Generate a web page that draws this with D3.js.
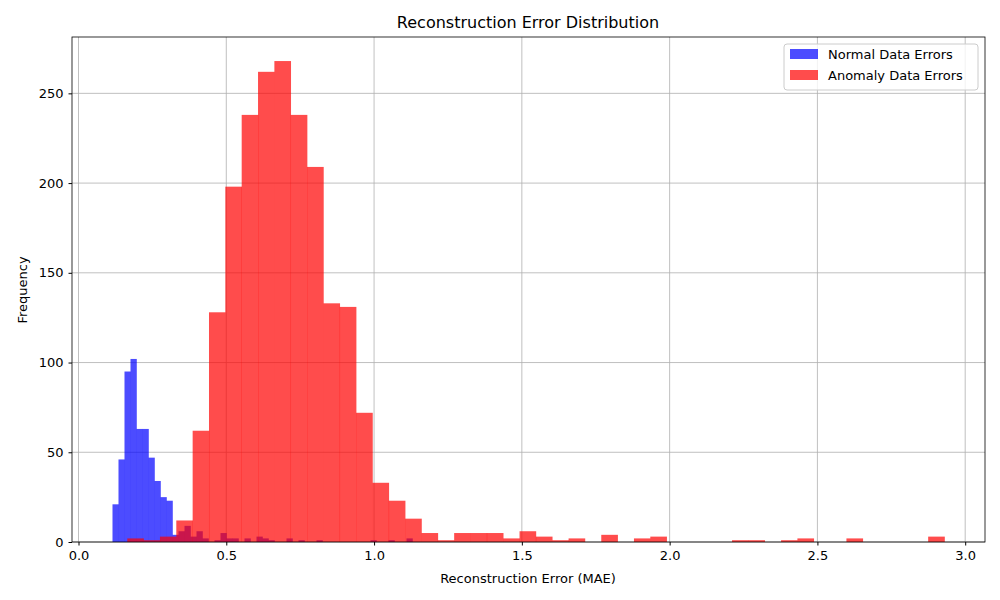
<!DOCTYPE html>
<html><head><meta charset="utf-8">
<script src="https://cdn.jsdelivr.net/npm/d3@7"></script>
<style>body{margin:0;font-family:"DejaVu Sans",sans-serif}</style>
</head><body><svg id="chart" width="1000" height="600"></svg>
<script>
// histogram bins
const normalStart = 0.115, normalWidth = 0.0203
const normalCounts = [21, 46, 95, 102, 63, 63, 47, 34, 25, 23, 4, 6, 9, 3, 6, 2, 0, 1, 5, 2,
  2, 0, 2, 0, 3, 2, 1, 0, 0, 2, 0, 1, 0, 0, 1, 0, 0, 0, 0, 0, 0, 0, 0, 1, 0, 0, 1, 0, 0, 2]
const anomalyStart = 0.165, anomalyWidth = 0.0553
const anomalyCounts = [2, 1, 3, 12, 62, 128, 198, 238, 262, 268, 238, 209, 133, 131, 72, 33, 23, 13, 5, 1,
  5, 5, 5, 2, 6, 3, 1, 2, 0, 4, 0, 2, 3, 0, 0, 0, 0, 1, 1, 0, 1, 2, 0, 0, 2, 0, 0, 0, 0, 3]
const xTicks = [0, 0.5, 1.0, 1.5, 2.0, 2.5, 3.0]
const yTicks = [0, 50, 100, 150, 200, 250]

const svg = d3.select('#chart')
const m = { l: 72, r: 985, t: 37, b: 542 }
const x = d3.scaleLinear().domain([-0.022, 3.067]).range([m.l, m.r])
const y = d3.scaleLinear().domain([0, 281.4]).range([m.b, m.t])

// grid
svg.append('g').selectAll('line').data(xTicks).join('line')
  .attr('x1', d => x(d)).attr('x2', d => x(d)).attr('y1', m.t).attr('y2', m.b)
  .attr('stroke', '#b0b0b0').attr('stroke-width', 0.8)
svg.append('g').selectAll('line').data(yTicks).join('line')
  .attr('y1', d => y(d)).attr('y2', d => y(d)).attr('x1', m.l).attr('x2', m.r)
  .attr('stroke', '#b0b0b0').attr('stroke-width', 0.8)

const drawHist = (start, w, counts, color) => svg.append('g').selectAll('rect').data(counts).join('rect')
  .attr('x', (v, i) => x(start + i * w)).attr('width', x(w) - x(0) + 0.3)
  .attr('y', v => y(v)).attr('height', v => y(0) - y(v))
  .attr('fill', color).attr('fill-opacity', 0.7)
drawHist(normalStart, normalWidth, normalCounts, '#0000ff')
drawHist(anomalyStart, anomalyWidth, anomalyCounts, '#ff0000')

const fmt = d => d.toFixed(1)
svg.append('g').attr('transform', `translate(0,${m.b})`)
  .call(d3.axisBottom(x).tickValues(xTicks).tickFormat(fmt).tickSizeOuter(0).tickSize(3.5).tickPadding(5))
svg.append('g').attr('transform', `translate(${m.l},0)`)
  .call(d3.axisLeft(y).tickValues(yTicks).tickSizeOuter(0).tickSize(3.5).tickPadding(5))
svg.selectAll('.tick text').attr('font-size', 13).attr('font-family', 'DejaVu Sans').attr('fill', '#000')
svg.selectAll('.domain').remove()
svg.append('rect').attr('x', m.l).attr('y', m.t).attr('width', m.r - m.l).attr('height', m.b - m.t)
  .attr('fill', 'none').attr('stroke', '#000').attr('stroke-width', 0.8)

svg.append('text').attr('x', 528).attr('y', 28).attr('text-anchor', 'middle').attr('font-size', 16)
  .text('Reconstruction Error Distribution')
svg.append('text').attr('x', 528).attr('y', 583).attr('text-anchor', 'middle').attr('font-size', 13)
  .text('Reconstruction Error (MAE)')
svg.append('text').attr('transform', 'translate(27,290) rotate(-90)').attr('text-anchor', 'middle').attr('font-size', 13)
  .text('Frequency')

// legend
const lg = svg.append('g').attr('transform', 'translate(784,44)')
lg.append('rect').attr('width', 194).attr('height', 46).attr('rx', 3)
  .attr('fill', '#fff').attr('fill-opacity', 0.8).attr('stroke', '#ccc')
const items = [['Normal Data Errors', '#0000ff'], ['Anomaly Data Errors', '#ff0000']]
items.forEach(([t, c], i) => {
  lg.append('rect').attr('x', 6).attr('y', 5 + i * 21).attr('width', 28).attr('height', 10)
    .attr('fill', c).attr('fill-opacity', 0.7)
  lg.append('text').attr('x', 44).attr('y', 15 + i * 21).attr('font-size', 13).text(t)
})
</script></body></html>
